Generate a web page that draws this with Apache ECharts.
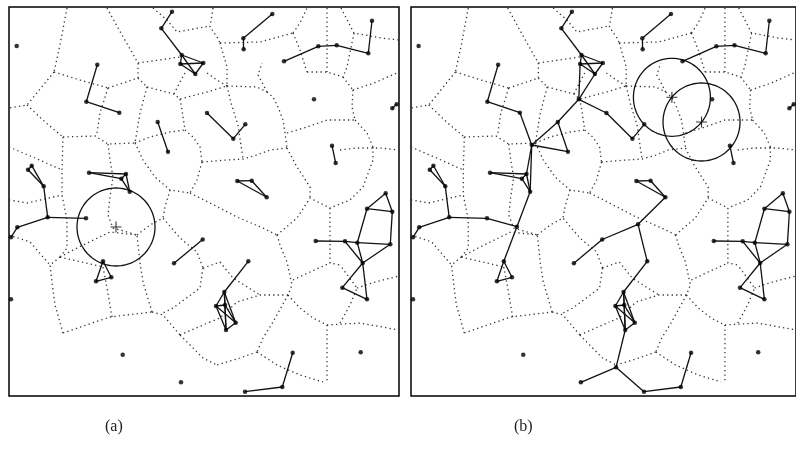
<!DOCTYPE html>
<html><head><meta charset="utf-8">
<script src="https://cdn.jsdelivr.net/npm/echarts@6/dist/echarts.min.js"></script>
<style>html,body{margin:0;padding:0;background:#fff}#c{width:796px;height:464px}</style>
</head><body><div id="c"></div>
<script>
// Node positions (shared frame of the panel, pixel-like units)
const nodesA = [
[16.7,46],[172,11.7],[161.3,28.3],[181.7,55],[180.3,64],[195.3,74],[203.3,63],
[97.3,64.7],[86.3,101.7],[119.3,112.7],[207,113],[233.3,138.7],[245.3,124.3],
[157.7,122],[168,151.7],[28,169.7],[31.7,165.7],[43.7,186.3],[89,172.7],[126,174],[121.3,178.7],[129.7,191.7],
[47.7,217.3],[86,218.3],[17.3,227.3],[11,237.3],[103,261.3],[111.3,277.3],[96,281.3],[202.7,239.5],[174,263.3],
[11,299.3],[122.7,354.7],[181,382.3],[237.3,181],[251.7,180.7],[266.7,197.3],
[385.7,193.3],[367,208.7],[392.3,211.7],[390.3,244.3],[357.3,242.7],[345,241.3],[315.7,241],[362.7,263],[342.3,287.7],[367,299.3],
[248.3,261.3],[224.3,292],[216,306],[225,305],[235.7,322.7],[226,330],
[292.7,352.7],[282.3,387],[245,391.7],[360.7,352.3],
[272.3,14],[243.3,38.3],[243.7,49.3],[284,61.3],[318.3,46.3],[336.7,45.3],[368.3,53.3],[372,20.7],
[314,99.3],[332,145.7],[335.7,163],[392.3,108.3],[396.7,104.3]
];
const extraNodesB = [[179,99.3],[131.3,145],[116.3,226.7],[216.7,367.3],[239,224.3]];

const edgesA = [
[1,2],[2,3],[3,4],[3,5],[3,6],[4,5],[4,6],[5,6],
[7,8],[8,9],[10,11],[11,12],[13,14],
[15,16],[15,17],[16,17],[17,22],
[18,19],[18,20],[19,20],[19,21],[20,21],
[22,23],[22,24],[24,25],[26,27],[27,28],[28,26],[29,30],
[34,35],[35,36],[34,36],
[37,38],[37,39],[38,39],[39,40],[38,41],[43,42],[42,41],[41,40],[42,44],[41,44],[40,44],[44,45],[45,46],[44,46],
[47,48],[48,49],[48,50],[48,51],[48,52],[49,50],[49,51],[49,52],[50,51],[50,52],[51,52],
[53,54],[54,55],[57,58],[58,59],[60,61],[61,62],[62,63],[63,64],[66,67],[68,69]
];
const extraEdgesB = [
[70,4],[70,5],[70,10],[70,13],[13,71],[71,14],[71,9],[71,19],[71,21],
[72,21],[72,23],[72,26],[29,74],[74,36],[74,47],[52,73],[73,33],[73,55]
];

const circlesA = [[116,227,39]];
const circlesB = [[273.3,97.3,39],[303.3,122,39]];

// Dotted cell boundaries
const cellLines = [
[[67,8],[60,45],[54,72]],
[[107,8],[122,35],[138,63]],
[[54,72],[80,80],[108,88]],
[[54,72],[27,105],[9,108]],
[[27,105],[45,122],[63,137]],
[[63,137],[95,136],[108,144],[135,143]],
[[108,88],[138,78],[138,63]],
[[138,63],[180,57]],
[[138,78],[147,87]],
[[147,87],[174,94],[180,99],[207,92],[227,86]],
[[174,94],[180,82],[185,73]],
[[227,86],[217,80],[207,73]],
[[227,86],[257,87],[267,92]],
[[267,92],[273,97],[278,107],[283,120],[285,133],[287,148]],
[[267,92],[258,75],[262,63]],
[[227,86],[231,103],[238,125],[243,159]],
[[108,88],[100,113],[97,133]],
[[147,87],[140,113],[135,143]],
[[180,99],[182,110],[185,130]],
[[135,143],[150,137],[170,132],[185,130]],
[[185,130],[193,137],[200,147],[202,162]],
[[202,162],[227,160],[243,159],[257,155],[270,150],[287,148]],
[[202,162],[197,180],[190,193]],
[[287,148],[297,167],[310,187],[310,198]],
[[153,8],[167,20],[177,32],[210,26]],
[[213,8],[210,27],[217,37],[220,43]],
[[220,43],[260,42],[293,33]],
[[293,33],[300,23],[307,8]],
[[327,8],[327,72]],
[[341,8],[354,33],[381,38],[399,40]],
[[354,33],[347,67],[343,77]],
[[307,72],[327,72],[343,77]],
[[293,33],[300,50],[307,72]],
[[220,43],[227,67],[227,86]],
[[343,77],[353,90]],
[[353,90],[374,83],[399,72]],
[[353,90],[352,107],[355,120]],
[[287,133],[307,127],[327,120],[355,120]],
[[355,120],[367,133],[373,147]],
[[340,150],[357,148],[380,148],[399,150]],
[[373,147],[373,160],[363,187],[350,200],[330,208]],
[[63,137],[62,170],[62,195],[67,220],[67,248],[60,257]],
[[9,147],[35,158],[62,170]],
[[9,200],[27,203],[62,195]],
[[135,143],[143,160],[155,177],[170,190],[190,193]],
[[108,144],[110,160],[113,177],[110,197],[108,215],[113,228],[137,235]],
[[60,257],[77,248],[110,232],[137,235]],
[[60,257],[103,267]],
[[60,257],[50,265],[52,282],[55,305],[63,333]],
[[63,333],[110,317],[152,312]],
[[103,267],[107,288],[112,317]],
[[152,312],[143,282],[140,263],[137,235]],
[[9,235],[30,242],[50,265]],
[[152,312],[163,315],[180,335]],
[[180,335],[210,322]],
[[180,335],[203,358],[217,365]],
[[170,190],[165,207],[163,218]],
[[137,235],[150,225],[163,218],[180,238],[197,252],[203,268]],
[[203,268],[200,288],[173,308],[163,313]],
[[190,193],[210,203],[237,217],[263,228],[277,235]],
[[277,235],[280,245],[287,262],[292,285],[288,295]],
[[288,295],[260,295],[237,302],[220,318],[210,322]],
[[288,295],[300,308],[313,318],[327,325]],
[[327,325],[327,382]],
[[327,325],[360,323],[399,330]],
[[277,235],[297,218],[310,198],[330,208]],
[[330,208],[330,263],[340,265]],
[[293,280],[310,272],[330,263]],
[[340,323],[350,305],[357,288],[340,265]],
[[357,288],[375,282],[399,276]],
[[203,268],[220,262],[233,278],[260,295]],
[[288,295],[273,322],[263,338],[257,352]],
[[257,352],[240,358],[217,365]],
[[257,352],[277,365],[300,375],[323,382]]
];

const panelLabels = ['(a)', '(b)'];

const nodesB = nodesA.concat(extraNodesB);
const panels = [
  {nodes: nodesA, edges: edgesA, circles: circlesA, left: 9},
  {nodes: nodesB, edges: edgesA.concat(extraEdgesB), circles: circlesB, left: 411}
];

function ring(c) {
  const pts = [];
  for (let k = 0; k <= 96; k++) {
    const t = k / 96 * Math.PI * 2;
    pts.push([c[0] + c[2] * Math.cos(t), c[1] + c[2] * Math.sin(t)]);
  }
  return pts;
}

const grids = [], xAxes = [], yAxes = [], series = [];
panels.forEach((p, i) => {
  grids.push({left: p.left, top: 7, width: 390, height: 389, show: true, borderColor: '#000', borderWidth: 1.5, backgroundColor: 'transparent'});
  xAxes.push({gridIndex: i, type: 'value', min: 9, max: 399, show: false});
  yAxes.push({gridIndex: i, type: 'value', min: 7, max: 396, inverse: true, show: false});
  series.push({
    type: 'lines', coordinateSystem: 'cartesian2d', xAxisIndex: i, yAxisIndex: i, polyline: true, silent: true,
    data: cellLines.map(c => ({coords: c})),
    lineStyle: {color: '#333', width: 1.3, type: [1.3, 3.2], opacity: 1}
  });
  series.push({
    type: 'lines', coordinateSystem: 'cartesian2d', xAxisIndex: i, yAxisIndex: i, silent: true,
    data: p.edges.map(e => ({coords: [p.nodes[e[0]], p.nodes[e[1]]]})),
    lineStyle: {color: '#111', width: 1.3, opacity: 1}
  });
  series.push({
    type: 'lines', coordinateSystem: 'cartesian2d', xAxisIndex: i, yAxisIndex: i, polyline: true, silent: true,
    data: p.circles.map(c => ({coords: ring(c)})),
    lineStyle: {color: '#111', width: 1.3, opacity: 1}
  });
  series.push({
    type: 'scatter', xAxisIndex: i, yAxisIndex: i, silent: true,
    data: p.nodes, symbolSize: 4.5, itemStyle: {color: '#000'}
  });
  series.push({
    type: 'scatter', xAxisIndex: i, yAxisIndex: i, silent: true,
    data: p.circles.map(c => [c[0], c[1]]),
    symbol: 'path://M0,4.5H10V5.5H0Z M4.5,0H5.5V10H4.5Z', symbolSize: 11, itemStyle: {color: '#000'}
  });
});

const chart = echarts.init(document.getElementById('c'), null, {renderer: 'canvas'});
chart.setOption({
  animation: false,
  backgroundColor: '#fff',
  grid: grids, xAxis: xAxes, yAxis: yAxes, series: series,
  graphic: [
    {type: 'text', left: 105, top: 419, style: {text: panelLabels[0], font: '16px "Liberation Serif", serif', fill: '#222'}},
    {type: 'text', left: 514, top: 419, style: {text: panelLabels[1], font: '16px "Liberation Serif", serif', fill: '#222'}}
  ]
});
</script>
</body></html>
